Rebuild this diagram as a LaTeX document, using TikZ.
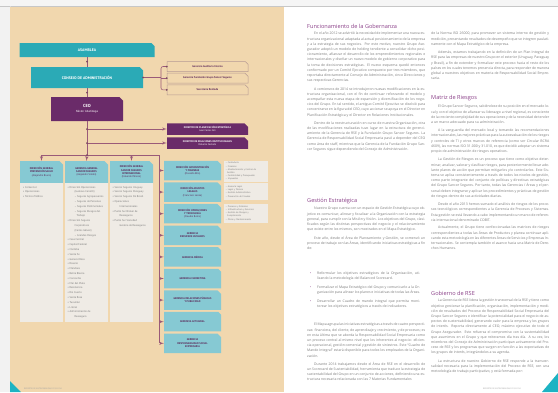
\documentclass[tikz,border=0pt]{standalone}
\usepackage{fontspec}
\setmainfont{PT Sans}
\newfontfamily\bodyfont{Open Sans}
\usetikzlibrary{arrows,positioning,shapes.misc}
\definecolor{pagebeige}{HTML}{F1D7AE}
\definecolor{tealdark}{HTML}{2BAAB6}
\definecolor{teallight}{HTML}{86C9D3}
\definecolor{ceopurple}{HTML}{6A2B69}
\definecolor{linemaroon}{HTML}{9A5A78}
\definecolor{listgrey}{HTML}{EFEBE5}
\definecolor{outlinebrown}{HTML}{B69A94}
\definecolor{bodytext}{HTML}{7A7A7A}
\definecolor{headpurple}{HTML}{8A3F88}
\definecolor{darkpurple}{HTML}{5B2758}
\definecolor{cornerteal}{HTML}{1DB3C3}
\tikzset{font=\fontsize{3}{3.6}\selectfont}
\tikzset{
  tabbox/.style={chamfered rectangle, chamfered rectangle corners=north east,
    chamfered rectangle sep=1.8pt, inner sep=0pt, align=center},
  bigbox/.style={tabbox, fill=tealdark, text=white,
    font=\fontsize{3.8}{4.6}\selectfont\bfseries},
  ceobox/.style={tabbox, fill=ceopurple, text=white},
  gerbox/.style={tabbox, draw=outlinebrown, line width=0.5pt, fill=pagebeige,
    text=darkpurple, minimum width=81pt, minimum height=10pt,
    font=\fontsize{2.7}{3.2}\selectfont\bfseries},
  dirbox/.style={ceobox, minimum width=81pt, minimum height=11.5pt,
    font=\fontsize{2.5}{3.2}\selectfont\bfseries},
  colhead/.style={tabbox, fill=teallight, text=darkpurple, minimum width=43pt,
    minimum height=22pt, font=\fontsize{2.6}{3.3}\selectfont\bfseries},
  sidebox/.style={tabbox, fill=teallight, text=darkpurple, minimum width=57pt,
    minimum height=19.5pt, font=\fontsize{2.6}{3.3}\selectfont\bfseries},
  colbody/.style={fill=listgrey, anchor=north, minimum width=43pt,
    minimum height=139pt, inner sep=0pt},
  listtxt/.style={anchor=north west, inner sep=0pt, align=left, text=bodytext,
    font=\fontsize{2.7}{4.8}\selectfont},
  sidelist/.style={fill=listgrey, anchor=north west, inner sep=1.5pt,
    text width=41pt, align=left, text=bodytext,
    font=\fontsize{2.3}{3.2}\selectfont},
  conn/.style={draw=linemaroon, line width=0.55pt},
  junct/.style={circle, fill=linemaroon!80!black, inner sep=0pt, minimum size=2pt},
  bodytxt/.style={anchor=north west, inner sep=0pt, text width=118pt,
    align=justify, text=bodytext, font=\bodyfont\fontsize{3.45}{5.2}\selectfont},
  headtxt/.style={anchor=west, inner sep=0pt, text=headpurple,
    font=\bodyfont\fontsize{5.6}{7}\selectfont},
  foot/.style={anchor=west, inner sep=0pt, text=bodytext!70,
    font=\fontsize{2}{2.4}\selectfont}
}
\newcommand{\ind}{\hspace*{7pt}}
\newcommand{\bitem}[1]{\par\hangindent=7pt\hangafter=1\noindent
  \makebox[7pt][l]{\textcolor{headpurple}{\textbullet}}#1\par\vspace{3.5pt}}

\begin{document}
\begin{tikzpicture}[x=1pt,y=-1pt]
  \useasboundingbox (0,0) rectangle (558,392);
  % paper and spread
  \fill[white] (0,0) rectangle (558,392);
  \fill[black!4] (0,0) rectangle (558,6);
  \fill[black!5] (0,6) rectangle (10,392);
  \draw[black!22, line width=0.6pt] (0,6.3) -- (558,6.3);
  \draw[black!15, line width=0.5pt] (10,6.3) -- (10,392);
  \fill[pagebeige] (10,7) rectangle (284,392);
  \fill[cornerteal] (10,381) -- (21,392) -- (10,392) -- cycle;
  \fill[cornerteal] (558,373) -- (558,392) -- (542,392) -- cycle;

  % org chart: top
  \node[bigbox, minimum width=135pt, minimum height=14pt] (asamblea) at (87,50) {ASAMBLEA};
  \node[bigbox, minimum width=112pt, minimum height=21pt] (consejo) at (87,77.5) {CONSEJO DE ADMINISTRACIÓN};
  \node[ceobox, minimum width=72pt, minimum height=24pt] (ceo) at (87,109)
    {{\fontsize{4.4}{5.4}\selectfont\bfseries CEO}\\[1pt]{\fontsize{3}{3.6}\selectfont Néstor Abatidaga}};

  \node[gerbox] (gerAud) at (207.5,66.5) {Gerencia Auditoría Interna};
  \node[gerbox] (gerFun) at (207.5,78.2) {Gerencia Fundación Grupo Sancor Seguros};
  \node[gerbox] (gerSec) at (207.5,89.9) {Secretaría Rentada};

  \node[dirbox] (dirPlan) at (207.5,129) {DIRECTOR DE PLANIFICACIÓN ESTRATÉGICA\\{\mdseries Juan Carlos Gili}};
  \node[dirbox] (dirRel) at (207.5,143) {DIRECTOR DE RELACIONES INSTITUCIONALES\\{\mdseries Roberto Castaño}};

  % spine
  \draw[conn] (asamblea.south) -- (consejo.north);
  \draw[conn] (consejo.south) -- (ceo.north);
  \coordinate (hub) at (87,155);
  \draw[conn] (ceo.south) -- (hub);
  \node[junct] at (87,61.5) {};
  \node[junct] at (87,92.5) {};

  \coordinate (gbus) at (161,77.5);
  \draw[conn] (consejo.east) -- (gbus);
  \draw[conn, rounded corners=2pt] (gerAud.west) -- (gbus |- gerAud.west) -- (gbus |- gerSec.west) -- (gerSec.west);
  \draw[conn] (gbus |- gerFun.west) -- (gerFun.west);
  \node[junct] at (consejo.east) {};
  \node[junct] at (gerAud.west) {};
  \node[junct] at (gerFun.west) {};
  \node[junct] at (gerSec.west) {};

  \draw[conn,-latex'] (hub |- dirPlan.west) -- (dirPlan.west);
  \draw[conn,-latex'] (hub |- dirRel.west) -- (dirRel.west);
  \node[junct] at (hub |- dirPlan.west) {};
  \node[junct] at (hub |- dirRel.west) {};

  % three columns
  \node[colhead] (hdrA) at (41.5,172) {DIRECCIÓN GENERAL\\PREVENCIÓN SALUD\\{\mdseries (Alejandro Bruno)}};
  \node[colhead] (hdrB) at (86.5,172) {GERENCIA GENERAL\\SANCOR SEGUROS\\{\mdseries (Alejandro Simón)}};
  \node[colhead] (hdrC) at (131.5,172) {DIRECCIÓN GENERAL\\SANCOR SEGUROS\\INTERNACIONAL\\{\mdseries (Eduardo Pérsico)}};
  \node[colbody] (bodyA) at (hdrA.south) {};
  \node[colbody] (bodyB) at (hdrB.south) {};
  \node[colbody] (bodyC) at (hdrC.south) {};

  \node[listtxt] (listA) at (23,186) {•\ Comercial\\•\ Operaciones\\•\ Técnico Médica};
  \node[listtxt] (listB) at (67.5,186) {•\ Dirección Operaciones\\
    \ind(Gustavo Ceriotti)\\
    \ind– Seguros Agropecuarios\\
    \ind– Seguros de Personas\\
    \ind– Seguros Patrimoniales\\
    \ind– Seguros Riesgos del\\
    \ind\ \ \,Trabajo\\
    •\ Dirección Seguros\\
    \ind Corporativos\\
    \ind(Carlos Gálvez)\\
    \ind– Grandes Riesgos\\
    •\ Casa Central\\•\ Capital Federal\\•\ Córdoba\\•\ Santa Fe\\
    •\ General Roca\\•\ Rosario\\•\ Mendoza\\•\ Bahía Blanca\\
    •\ Concordia\\•\ Mar del Plata\\•\ Resistencia\\•\ Río Cuarto\\
    •\ Santa Rosa\\•\ Tucumán\\•\ Litoral\\
    •\ Administración de\\\ind Reaseguro};
  \node[listtxt] (listC) at (112.5,186) {•\ Sancor Seguros Uruguay\\
    •\ Sancor Seguros Paraguay\\
    •\ Sancor Seguros Do Brasil\\
    •\ Operaciones\\\ind Internacionales\\
    •\ Punto Sur Broker de\\\ind Reaseguros\\
    •\ Punto Sur Sociedad\\\ind Gestora de Reaseguros};

  % right stack
  \node[sidebox] (dirAdm) at (192.5,170.5) {DIRECCIÓN ADMINISTRACIÓN\\Y FINANZAS\\{\mdseries (Osvaldo Bilo)}};
  \node[sidebox] (dirLeg) at (192.5,192.1) {DIRECCIÓN ASUNTOS\\LEGALES\\{\mdseries (Francisco Lanza)}};
  \node[sidebox] (dirOpe) at (192.5,213.7) {DIRECCIÓN OPERACIONES\\Y TECNOLOGÍA\\{\mdseries (Claudio Bonis)}};
  \node[sidebox] (gerRRHH) at (192.5,235.3) {GERENCIA\\RECURSOS HUMANOS};
  \node[sidebox] (gerMed) at (192.5,256.9) {GERENCIA MÉDICA};
  \node[sidebox] (gerMkt) at (192.5,278.5) {GERENCIA MARKETING};
  \node[sidebox] (gerRRPP) at (192.5,300.1) {GERENCIA RELACIONES PÚBLICAS\\Y PUBLICIDAD};
  \node[sidebox] (gerAct) at (192.5,321.7) {GERENCIA ACTUARIAL};
  \node[sidebox] (gerRSE) at (192.5,343.3) {GERENCIA\\RESPONSABILIDAD SOCIAL\\EMPRESARIA};

  \node[sidelist, minimum height=21pt] (subAdm) at (224,160.5) {– Contaduría\\– Finanzas\\– Abastecimiento y Control de\\\ \ Gestión\\– Contabilidad y Presupuesto\\– Impuestos};
  \node[sidelist, minimum height=17.5pt] (subLeg) at (224,182.5) {– Asesoría Legal\\– Legal y Técnica\\– Gestión Administrativa\\– Prevención de Fraudes};
  \node[sidelist, minimum height=19pt] (subOpe) at (224,203.5) {– Procesos y Sistemas\\– Infraestructura y Servicios\\– Gestión de Riesgos y\\\ \ Cumplimiento\\– Obras y Mantenimiento};

  % lower connectors
  \coordinate (rbus) at (159.5,155);
  \draw[conn] (hdrA.north |- hub) -- (rbus);
  \draw[conn] (rbus) -- (rbus |- gerRSE.west);
  \draw[conn,-latex'] (hdrA.north |- hub) -- (hdrA.north);
  \draw[conn,-latex'] (hub) -- (hdrB.north);
  \draw[conn,-latex'] (hdrC.north |- hub) -- (hdrC.north);
  \node[junct] at (hub) {};
  \foreach \n in {dirAdm,dirLeg,dirOpe,gerRRHH,gerMed,gerMkt,gerRRPP,gerAct,gerRSE}
    \draw[conn,-latex'] (rbus |- \n.west) -- (\n.west);

  \node[foot] (footL) at (24,389) {REPORTE DE SUSTENTABILIDAD 2013-2014};

  % right page, first column
  \node[headtxt] (hGob) at (307,26) {Funcionamiento de la Gobernanza};
  \node[bodytxt] (p1) at (307,32) {\ind En el año 2012 se advirtió la necesidad de implementar una nueva estructura organizacional adaptada al actual posicionamiento de la empresa y a la estrategia de sus negocios. Por este motivo, nuestro Grupo Asegurador adoptó un modelo de holding tendiente a consolidar dicho posicionamiento, afianzar el desarrollo de los emprendimientos regionales e internacionales y diseñar un nuevo modelo de gobierno corporativo para la toma de decisiones estratégicas. El nuevo esquema quedó entonces conformado por un Comité Ejecutivo compuesto por tres miembros, que reportaba directamente al Consejo de Administración, cinco Direcciones y sus respectivas Gerencias.};
  \node[bodytxt] (p2) at ([yshift=-4.5pt]p1.south west) {\ind A comienzos de 2014 se introdujeron nuevas modificaciones en la estructura organizacional, con el fin de continuar reforzando el modelo y acompañar esta nueva etapa de expansión y diversificación de los negocios del Grupo. En tal sentido, el antiguo Comité Ejecutivo se disolvió para concentrarse en la figura del CEO, cuyo accionar se apoya en el Director en Planificación Estratégica y el Director en Relaciones Institucionales.};
  \node[bodytxt] (p3) at ([yshift=-4.5pt]p2.south west) {\ind Dentro de la reestructuración en curso de nuestra Organización, otra de las modificaciones realizadas tuvo lugar en la estructura de gerenciamiento de la Gerencia de RSE y la Fundación Grupo Sancor Seguros. La Gerencia de Responsabilidad Social Empresaria pasó a depender del CEO como área de staff, mientras que la Gerencia de la Fundación Grupo Sancor Seguros sigue dependiendo del Consejo de Administración.};
  \node[headtxt] (hEst) at (307,201) {Gestión Estratégica};
  \node[bodytxt] (p4) at (307,207) {\ind Nuestro Grupo cuenta con un espacio de Gestión Estratégica cuyo objetivo es comunicar, alinear y focalizar a la Organización con la estrategia general, para cumplir con la Misión y Visión. Los objetivos del Grupo, clasificados según las distintas perspectivas del negocio y el relacionamiento que existe entre los mismos, son mostrados en el Mapa Estratégico.};
  \node[bodytxt] (p5) at ([yshift=-4.5pt]p4.south west) {\ind Este año, desde el Área de Planeamiento y Gestión, se comenzó un proceso de trabajo con las Áreas, identificando iniciativas estratégicas a fin de:};
  \node[bodytxt, text width=110pt] (bul) at (310,269) {\bitem{Reformular los objetivos estratégicos de la Organización, utilizando la metodología del Balanced Scorecard.}\bitem{Formalizar el Mapa Estratégico del Grupo y comunicarlo a la Organización para alinear los planes e iniciativas de todas las Áreas.}\bitem{Desarrollar un Cuadro de mando integral que permita monitorear los objetivos estratégicos a través de indicadores.}};
  \node[bodytxt] (p6) at (307,323) {\ind El Mapa agrupa las iniciativas estratégicas a través de cuatro perspectivas: financiera, del cliente, de aprendizaje y crecimiento, y de procesos; es en esta última que se aborda la Responsabilidad Social Empresaria como un proceso central al mismo nivel que los inherentes al negocio: eficiencia operacional, gestión comercial y gestión de siniestros. Este “Cuadro de Mando Integral” estará disponible para todos los empleados de la Organización.};
  \node[bodytxt] (p7) at ([yshift=-4.5pt]p6.south west) {\ind Durante 2014 trabajamos desde el Área de RSE en el desarrollo de un Scorecard de Sustentabilidad, herramienta que traduce la estrategia de sustentabilidad del Grupo en un conjunto de acciones, definiendo una estructura necesaria relacionada con las 7 Materias Fundamentales};

  % right page, second column
  \node[bodytxt] (p8) at (431,32) {de la Norma ISO 26000, para promover un sistema interno de gestión y medición, presentando resultados de desempeño que se integren paulatinamente con el Mapa Estratégico de la empresa.};
  \node[bodytxt] (p9) at ([yshift=-4.5pt]p8.south west) {\ind Además, estamos trabajando en la definición de un Plan Integral de RSE para las empresas de nuestro Grupo en el exterior (Uruguay, Paraguay y Brasil), a fin de extender y formalizar este proceso hacia el resto de los países en los cuales tenemos presencia directa, para responder de manera global a nuestros objetivos en materia de Responsabilidad Social Empresaria.};
  \node[headtxt] (hRie) at (431,98) {Matriz de Riesgos};
  \node[bodytxt] (p10) at (431,105) {\ind El Grupo Sancor Seguros, sabiéndose de su posición en el mercado local y con el objetivo de afianzar su liderazgo a nivel regional, es consciente de la creciente complejidad de sus operaciones y de la necesidad de tender a un marco adecuado para su administración.};
  \node[bodytxt] (p11) at ([yshift=-4.5pt]p10.south west) {\ind A la vanguardia del mercado local y tomando las recomendaciones internacionales, las mejores prácticas para la autoevaluación de los riesgos y controles de TI y otros marcos de referencia (como ser Circular BCRA 4609), las normas ISO 31.000 y 31.010, es que decidió adoptar un sistema propio de administración de riesgos operativos.};
  \node[bodytxt] (p12) at ([yshift=-4.5pt]p11.south west) {\ind La Gestión de Riesgos es un proceso que tiene como objetivo determinar, analizar, valorar y clasificar riesgos, para posteriormente llevar adelante planes de acción que permitan mitigarlos y/o controlarlos. Este Sistema se aplica consistentemente a través de todos los niveles de gestión, como parte integrante del conjunto de políticas y directivas estratégicas del Grupo Sancor Seguros. Por tanto, todas las Gerencias / Áreas y el personal deben integrarse y aplicar los procedimientos y prácticas de gestión de riesgos dentro de sus actividades diarias.};
  \node[bodytxt] (p13) at ([yshift=-4.5pt]p12.south west) {\ind Desde el año 2013 hemos sumado el análisis de riesgos de los procesos tecnológicos correspondientes a la Gerencia de Procesos y Sistemas. Esta gestión se está llevando a cabo implementando un marco de referencia internacional denominado COBIT.};
  \node[bodytxt] (p14) at ([yshift=-4.5pt]p13.south west) {\ind Actualmente, el Grupo tiene confeccionadas las matrices de riesgos correspondientes a todas las Áreas de Productos y planea continuar aplicando esta metodología en las diferentes Áreas de Servicios y Empresas Internacionales. Se contempla también el avance hacia una Matriz de Derechos Humanos.};
  \node[headtxt] (hRSE) at (431,293) {Gobierno de RSE};
  \node[bodytxt] (p15) at (431,299) {\ind La Gerencia de RSE lidera la gestión transversal de la RSE y tiene como objetivo gestionar la planificación, organización, implementación y medición de resultados del Proceso de Responsabilidad Social Empresaria del Grupo Sancor Seguros e identificar la potencialidad para el negocio de aspectos de sustentabilidad, generando valor para la empresa y los grupos de interés. Reporta directamente al CEO, máximo ejecutivo de todo el Grupo Asegurador. Esto refuerza el compromiso con la sustentabilidad que asumimos en el Grupo y que reiteramos día tras día. A su vez, los miembros del Consejo de Administración participan activamente del Proceso de RSE y los programas que surgen en función a las expectativas de los grupos de interés, integrándolos a su agenda.};
  \node[bodytxt] (p16) at ([yshift=-4.5pt]p15.south west) {\ind La estructura de nuestro Gobierno de RSE responde a la transversalidad necesaria para la implementación del Proceso de RSE, con una metodología de trabajo participativo, y está formada por:};
  \node[foot] (footR) at (483,389) {REPORTE DE SUSTENTABILIDAD 2013-2014};
\end{tikzpicture}
\end{document}
